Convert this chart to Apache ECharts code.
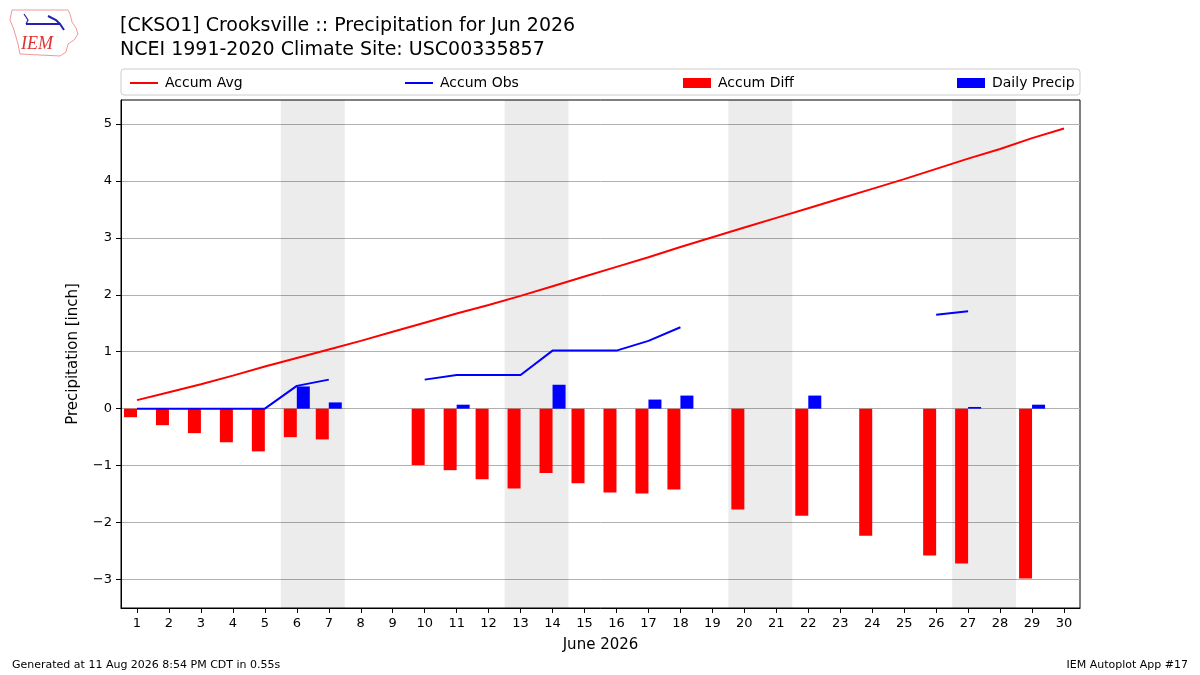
<!DOCTYPE html>
<html>
<head>
<meta charset="utf-8">
<script src="https://cdn.jsdelivr.net/npm/echarts@6/dist/echarts.min.js"></script>
<style>
  html, body { margin: 0; padding: 0; background: #fff; }
  #chart { width: 1200px; height: 675px; }
</style>
</head>
<body>
<div id="chart"></div>
<script>
// days of the month
var days = [1,2,3,4,5,6,7,8,9,10,11,12,13,14,15,16,17,18,19,20,21,22,23,24,25,26,27,28,29,30];

// accumulated climatology (inch)
var accumAvg = [0.15,0.29,0.43,0.58,0.74,0.89,1.04,1.19,1.35,1.51,1.67,1.82,1.98,2.15,2.32,
                2.49,2.66,2.84,3.01,3.18,3.35,3.52,3.69,3.86,4.03,4.21,4.39,4.56,4.75,4.92];

// accumulated observed (null = missing)
var accumObs = [0,0,0,0,0,0.40,0.51,null,null,0.51,0.59,0.59,0.59,1.02,1.02,
                1.02,1.19,1.43,null,null,null,null,null,null,null,1.65,1.71,null,null,null];

// accumulated departure
var accumDiff = [-0.15,-0.29,-0.43,-0.59,-0.75,-0.50,-0.54,null,null,-0.99,-1.08,-1.24,-1.40,-1.13,-1.31,
                 -1.47,-1.49,-1.42,null,-1.77,null,-1.88,null,-2.23,null,-2.58,-2.72,null,-2.98,null];

// daily precipitation
var dailyPrecip = [0,0,0,0,0,0.39,0.11,null,null,0,0.07,0,0,0.42,0,
                   0,0.16,0.23,null,null,null,0.23,null,null,null,null,0.03,null,0.07,null];

// weekend day pairs (shaded)
var weekends = [[6,7],[13,14],[20,21],[27,28]];

var yTicks = [-3,-2,-1,0,1,2,3,4,5];

function pairs(arr, keepNull) {
    var out = [];
    for (var i = 0; i < days.length; i++) {
        if (arr[i] === null && !keepNull) continue;
        out.push([days[i], arr[i]]);
    }
    return out;
}

var FONT = 'DejaVu Sans';

var myChart = echarts.init(document.getElementById('chart'));

function legendAt(left, name, isLine) {
    return {
        left: left,
        top: 71,
        icon: 'rect',
        itemWidth: 28,
        itemHeight: isLine ? 2 : 10,
        itemGap: 10,
        data: [name],
        textStyle: { fontFamily: FONT, fontSize: 14, color: '#000', padding: [0, 0, 0, 2] }
    };
}

var option = {
    animation: false,
    backgroundColor: '#fff',
    textStyle: { fontFamily: FONT },
    title: [{
        text: '[CKSO1] Crooksville :: Precipitation for Jun 2026\nNCEI 1991-2020 Climate Site: USC00335857',
        left: 115,
        top: 9,
        textStyle: { fontFamily: FONT, fontSize: 19, fontWeight: 'normal', color: '#000', lineHeight: 24 }
    }],
    legend: [
        legendAt(125, 'Accum Avg', true),
        legendAt(400, 'Accum Obs', true),
        legendAt(678, 'Accum Diff', false),
        legendAt(952, 'Daily Precip', false)
    ],
    grid: {
        left: 121, right: 120, top: 100, bottom: 67,
        show: true, borderColor: '#000', borderWidth: 1, backgroundColor: '#fff'
    },
    xAxis: {
        type: 'value',
        min: 0.5,
        max: 30.5,
        name: 'June 2026',
        nameLocation: 'middle',
        nameGap: 30,
        nameTextStyle: { fontFamily: FONT, fontSize: 15, color: '#000' },
        axisLine: { show: true, onZero: false, lineStyle: { color: '#000' } },
        axisTick: { show: true, length: 5, lineStyle: { color: '#000' }, customValues: days },
        axisLabel: { fontFamily: FONT, fontSize: 13, color: '#000', margin: 9, customValues: days },
        splitLine: { show: false }
    },
    yAxis: {
        type: 'value',
        min: -3.5,
        max: 5.42,
        name: 'Precipitation [inch]',
        nameLocation: 'middle',
        nameGap: 40,
        nameTextStyle: { fontFamily: FONT, fontSize: 15, color: '#000' },
        axisLine: { show: true, lineStyle: { color: '#000' } },
        axisTick: { show: true, length: 5, lineStyle: { color: '#000' }, customValues: yTicks },
        axisLabel: {
            fontFamily: FONT, fontSize: 13, color: '#000', margin: 9, customValues: yTicks,
            formatter: function (v) { return String(v).replace('-', '\u2212'); }
        },
        splitLine: { show: true, lineStyle: { color: '#b0b0b0', width: 1 } }
    },
    graphic: [
        // IEM logo, rough sketch
        {
            type: 'polyline', silent: true,
            shape: { points: [[12,10],[68,10],[70,14],[72,22],[76,28],[78,34],[74,40],[68,44],[66,52],[60,56],[20,54],[18,44],[14,30],[10,20],[12,10]] },
            style: { stroke: '#e99', fill: null, lineWidth: 1 }
        },
        {
            type: 'polyline', silent: true,
            shape: { points: [[26,24],[60,24],[64,30]] },
            style: { stroke: '#22a', lineWidth: 2, fill: null }
        },
        {
            type: 'polyline', silent: true,
            shape: { points: [[24,14],[28,20],[26,24]] },
            style: { stroke: '#22a', lineWidth: 1.2, fill: null }
        },
        {
            type: 'polyline', silent: true,
            shape: { points: [[48,16],[56,20],[60,24]] },
            style: { stroke: '#22a', lineWidth: 2, fill: null }
        },
        {
            type: 'text', left: 21, top: 35, silent: true,
            style: { text: 'IEM', font: 'italic 18px "Liberation Serif"', fill: '#d33' }
        },
        // legend frame
        {
            type: 'rect', silent: true, z: -1,
            shape: { x: 121, y: 69, width: 959, height: 26, r: 3 },
            style: { fill: '#fff', stroke: '#ccc', lineWidth: 1 }
        },
        {
            type: 'text', left: 12, top: 660, silent: true,
            style: { text: 'Generated at 11 Aug 2026 8:54 PM CDT in 0.55s', font: '11px "DejaVu Sans"', fill: '#000' }
        },
        {
            type: 'text', right: 12, top: 660, silent: true,
            style: { text: 'IEM Autoplot App #17', font: '11px "DejaVu Sans"', fill: '#000' }
        }
    ],
    series: [
        {
            name: 'weekend',
            type: 'line',
            data: [],
            silent: true,
            z: 1,
            markArea: {
                silent: true,
                itemStyle: { color: 'rgba(0,0,0,0.075)' },
                data: weekends.map(function (w) {
                    return [{ xAxis: w[0] - 0.5 }, { xAxis: w[1] + 0.5 }];
                })
            }
        },
        {
            name: 'Accum Diff',
            type: 'bar',
            barWidth: 13,
            barGap: '0%',
            itemStyle: { color: '#ff0000' },
            data: pairs(accumDiff, false),
            z: 2
        },
        {
            name: 'Daily Precip',
            type: 'bar',
            barWidth: 13,
            barGap: '0%',
            itemStyle: { color: '#0000ff' },
            data: pairs(dailyPrecip, false),
            z: 2
        },
        {
            name: 'Accum Avg',
            type: 'line',
            symbol: 'none',
            lineStyle: { color: '#ff0000', width: 2 },
            itemStyle: { color: '#ff0000' },
            data: pairs(accumAvg, true),
            z: 3
        },
        {
            name: 'Accum Obs',
            type: 'line',
            symbol: 'none',
            connectNulls: false,
            lineStyle: { color: '#0000ff', width: 2 },
            itemStyle: { color: '#0000ff' },
            data: pairs(accumObs, true),
            z: 3
        }
    ]
};

myChart.setOption(option);
</script>
</body>
</html>
